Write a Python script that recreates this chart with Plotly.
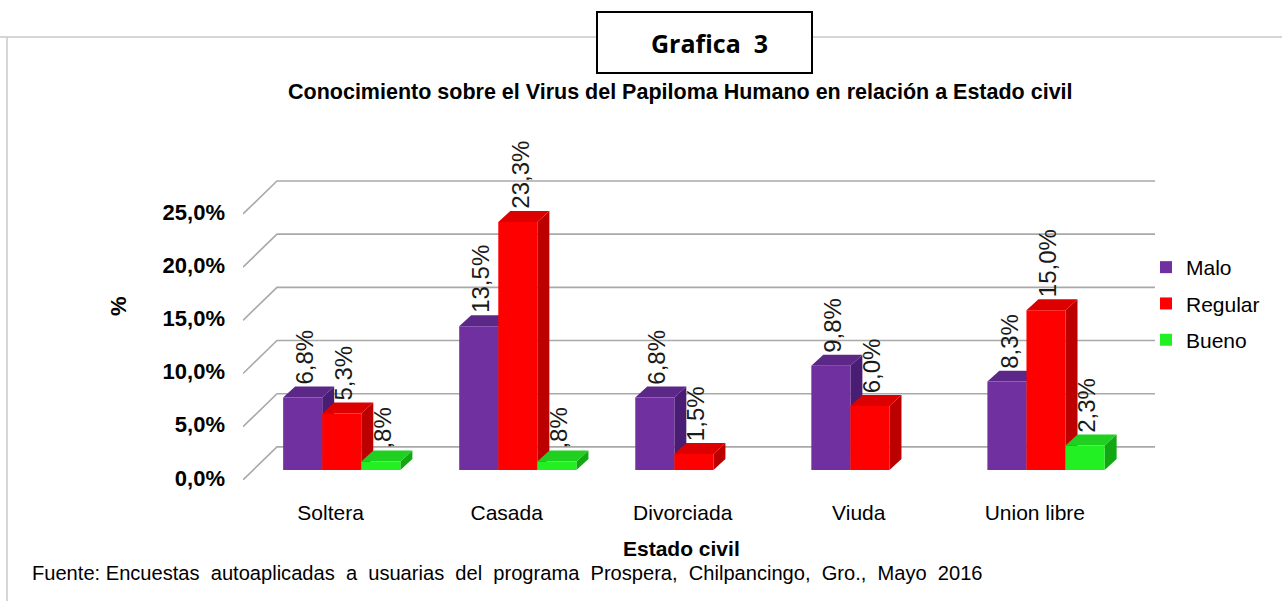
import plotly.graph_objects as go

# chart data
CATEGORIES = ["Soltera", "Casada", "Divorciada", "Viuda", "Union libre"]
SERIES = ["Malo", "Regular", "Bueno"]
MALO = [6.8, 13.5, 6.8, 9.8, 8.3]
REGULAR = [5.3, 23.3, 1.5, 6.0, 15.0]
BUENO = [0.8, 0.8, 0.0, 0.0, 2.3]
Y_TICKS = [0, 5, 10, 15, 20, 25]
Y_TICK_LABELS = ["0,0%", "5,0%", "10,0%", "15,0%", "20,0%", "25,0%"]

TITLE = "Conocimiento sobre el Virus del Papiloma Humano en relación a Estado civil"
SOURCE = "Fuente: Encuestas  autoaplicadas  a  usuarias  del  programa  Prospera,  Chilpancingo,  Gro.,  Mayo  2016"

W, H = 1282, 601
ML, MR, MT, MB = 243, 127, 180, 121
X_RANGE = [-0.56, 4.62]
Y_RANGE = [-0.95, 27.25]

FONT = "Arial, 'Liberation Sans', sans-serif"

# face colours: front, top, side
COLORS = {
    "Malo": ("#7030a0", "#5c2888", "#4a1d74"),
    "Regular": ("#ff0000", "#dc0000", "#bc0000"),
    "Bueno": ("#22f022", "#20d020", "#12a812"),
}

BAR_W = 0.222
OFFSETS = [-0.332, -0.110, 0.112]
DEPTH_X, DEPTH_Y = 0.068, 1.03  # bar depth in axis units
WALL_FRONT = (-0.56, -0.94)     # front edge of the floor / tick plane
WALL_BACK = (-0.367, 2.16)      # back wall offset


def paper_x(px):
    return (px - ML) / (W - ML - MR)


def paper_y(py):
    return (H - MB - py) / (H - MT - MB)


def fmt(v):
    # Excel "#,#%" style: no leading zero
    s = f"{v:.1f}".replace(".", ",")
    return s[1:] if s.startswith("0") else s


fig = go.Figure()
shapes = []
annotations = []

# perspective gridlines
for v in Y_TICKS:
    path = (f"M {WALL_FRONT[0]},{v + WALL_FRONT[1]} L {WALL_BACK[0]},{v + WALL_BACK[1]} "
            f"L {X_RANGE[1]},{v + WALL_BACK[1]}")
    shapes.append(dict(type="path", path=path, xref="x", yref="y", layer="below",
                       line=dict(color="#a9a9a9", width=1.6)))

xs = list(range(len(CATEGORIES)))
for name, values, off in zip(SERIES, [MALO, REGULAR, BUENO], OFFSETS):
    front, top, side = COLORS[name]
    fig.add_trace(go.Bar(
        x=xs, y=values, name=name, width=BAR_W, offset=off,
        marker=dict(color=front, line=dict(width=0)),
        legendgroup=name, hoverinfo="skip",
    ))

# 3-d faces and value labels, drawn category by category so nearer bars cover the ones behind
for i in xs:
    for name, values, off in zip(SERIES, [MALO, REGULAR, BUENO], OFFSETS):
        v = values[i]
        if v <= 0:
            continue
        front, top, side = COLORS[name]
        x0 = i + off
        x1 = x0 + BAR_W
        top_path = (f"M {x0},{v} L {x1},{v} L {x1 + DEPTH_X},{v + DEPTH_Y} "
                    f"L {x0 + DEPTH_X},{v + DEPTH_Y} Z")
        side_path = (f"M {x1},0 L {x1},{v} L {x1 + DEPTH_X},{v + DEPTH_Y} "
                     f"L {x1 + DEPTH_X},{DEPTH_Y} Z")
        shapes.append(dict(type="path", path=side_path, xref="x", yref="y", layer="below",
                           fillcolor=side, line=dict(width=0)))
        shapes.append(dict(type="path", path=top_path, xref="x", yref="y", layer="below",
                           fillcolor=top, line=dict(width=0)))
        annotations.append(dict(
            x=x0 + BAR_W / 2 + 0.01, y=v + DEPTH_Y, xref="x", yref="y",
            text=fmt(v) + "%", showarrow=False, textangle=-90,
            xanchor="center", yanchor="bottom",
            font=dict(family=FONT, size=24, color="#1a1a1a"),
        ))

# outer frame and "Grafica 3" box
shapes += [
    dict(type="line", xref="paper", yref="paper", x0=paper_x(0), x1=paper_x(597),
         y0=paper_y(37), y1=paper_y(37), line=dict(color="#c8c8c8", width=1.5)),
    dict(type="line", xref="paper", yref="paper", x0=paper_x(812), x1=paper_x(W),
         y0=paper_y(37), y1=paper_y(37), line=dict(color="#c8c8c8", width=1.5)),
    dict(type="line", xref="paper", yref="paper", x0=paper_x(7), x1=paper_x(7),
         y0=paper_y(37), y1=paper_y(H), line=dict(color="#c8c8c8", width=1.5)),
    dict(type="rect", xref="paper", yref="paper", x0=paper_x(597), x1=paper_x(812),
         y0=paper_y(12), y1=paper_y(73), line=dict(color="black", width=2)),
]


def label(px, py, text, size, family=FONT, **kw):
    d = dict(x=paper_x(px), y=paper_y(py), xref="paper", yref="paper", text=text,
             showarrow=False, xanchor="center", yanchor="middle",
             font=dict(family=family, size=size, color="black"))
    d.update(kw)
    return d


annotations += [
    label(709, 43, "<b>Grafica  3</b>", 25, family="'Open Sans', sans-serif"),
    label(680, 92, f"<b>{TITLE}</b>", 21.5),
    label(118, 306, "<b>%</b>", 22, textangle=-90),
    label(681, 548, "<b>Estado civil</b>", 21),
    label(30, 573, SOURCE, 20.1, xanchor="left"),
]

fig.update_layout(
    width=W, height=H,
    margin=dict(l=ML, r=MR, t=MT, b=MB),
    paper_bgcolor="white", plot_bgcolor="white",
    barmode="overlay",
    showlegend=True,
    legend=dict(x=paper_x(1146), y=paper_y(247), xanchor="left", yanchor="top",
                font=dict(family=FONT, size=21, color="black"),
                tracegroupgap=6, traceorder="grouped", bgcolor="rgba(0,0,0,0)"),
    xaxis=dict(range=X_RANGE, tickvals=xs, ticktext=CATEGORIES, showgrid=False,
               zeroline=False, showline=False, ticks="", ticklabelshift=-11,
               ticklabelstandoff=18, tickfont=dict(family=FONT, size=21, color="black"),
               fixedrange=True),
    yaxis=dict(range=Y_RANGE, tickvals=Y_TICKS,
               ticktext=[f"<b>{t}</b>" for t in Y_TICK_LABELS], showgrid=False,
               zeroline=False, showline=False, ticks="", ticklabelshift=8,
               ticklabelstandoff=17, tickfont=dict(family=FONT, size=22, color="black"),
               fixedrange=True),
    shapes=shapes,
    annotations=annotations,
)

fig.write_html("out.html", config={"displayModeBar": False},
               post_script="document.body.style.margin='0';")
